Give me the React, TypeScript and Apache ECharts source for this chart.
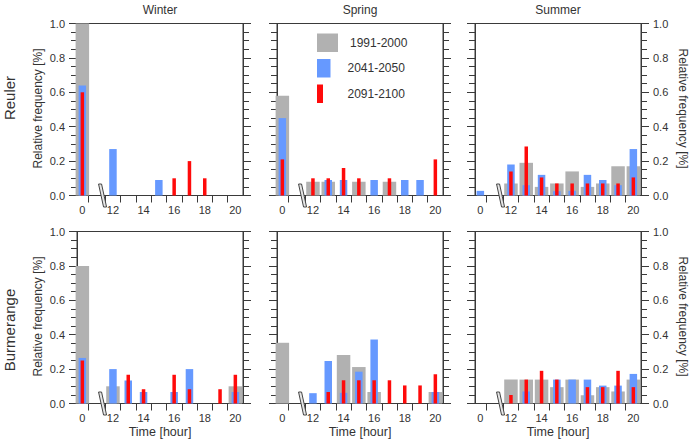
import React, { useEffect, useRef } from "react";
import * as echarts from "echarts";

// Hours shown on the broken time axis: 0, then 12..20
const HOURS = [0, 12, 13, 14, 15, 16, 17, 18, 19, 20];
const X_LABEL_HOURS = [0, 12, 14, 16, 18, 20];
const PERIODS = ["1991-2000", "2041-2050", "2091-2100"];
const SEASONS = ["Winter", "Spring", "Summer"];
const STATIONS = ["Reuler", "Burmerange"];

// Relative frequency per hour (order of HOURS)
const reulerWinter1991 = [1.0, 0, 0, 0, 0, 0, 0, 0, 0, 0];
const reulerWinter2041 = [0.64, 0.27, 0, 0, 0.09, 0, 0, 0, 0, 0];
const reulerWinter2091 = [0.6, 0, 0, 0, 0, 0.1, 0.2, 0.1, 0, 0];

const reulerSpring1991 = [0.58, 0.08, 0.08, 0, 0.08, 0, 0.08, 0, 0, 0];
const reulerSpring2041 = [0.45, 0, 0.09, 0.09, 0, 0.09, 0, 0.09, 0.09, 0];
const reulerSpring2091 = [0.21, 0.1, 0.1, 0.16, 0.1, 0, 0.1, 0, 0, 0.21];

const reulerSummer1991 = [0, 0.07, 0.19, 0.05, 0.07, 0.14, 0.05, 0.07, 0.17, 0.17];
const reulerSummer2041 = [0.027, 0.18, 0.06, 0.12, 0.025, 0.027, 0.12, 0.09, 0.06, 0.27];
const reulerSummer2091 = [0, 0.14, 0.285, 0.105, 0.07, 0.07, 0.07, 0.07, 0.07, 0.105];

const burmWinter1991 = [0.8, 0.1, 0, 0, 0, 0, 0, 0, 0, 0.1];
const burmWinter2041 = [0.265, 0.2, 0.133, 0.067, 0, 0.067, 0.2, 0, 0, 0.067];
const burmWinter2091 = [0.25, 0, 0.167, 0.083, 0, 0.167, 0.083, 0, 0.083, 0.167];

const burmSpring1991 = [0.353, 0, 0, 0.282, 0.212, 0.067, 0, 0, 0, 0.067];
const burmSpring2041 = [0, 0.06, 0.247, 0.062, 0.185, 0.372, 0, 0, 0, 0.067];
const burmSpring2091 = [0, 0, 0.067, 0.135, 0.135, 0.135, 0.135, 0.105, 0.105, 0.17];

const burmSummer1991 = [0, 0.139, 0.139, 0.139, 0.095, 0.139, 0.048, 0.095, 0.07, 0.139];
const burmSummer2041 = [0, 0, 0.07, 0, 0.139, 0.139, 0.139, 0.104, 0.104, 0.172];
const burmSummer2091 = [0, 0.05, 0.139, 0.19, 0.139, 0, 0.095, 0.095, 0.19, 0.095];

const PANELS = [
  [
    [reulerWinter1991, reulerWinter2041, reulerWinter2091],
    [reulerSpring1991, reulerSpring2041, reulerSpring2091],
    [reulerSummer1991, reulerSummer2041, reulerSummer2091],
  ],
  [
    [burmWinter1991, burmWinter2041, burmWinter2091],
    [burmSpring1991, burmSpring2041, burmSpring2091],
    [burmSummer1991, burmSummer2041, burmSummer2091],
  ],
];

const COLORS = ["#b1b1b1", "#6699ff", "#ff0a0a"];
const BAR_WIDTHS = [13.5, 7.5, 3.5];
const FONT = "'Liberation Sans', Arial, sans-serif";
const TEXT = "#333";
const AXIS = "#3a3a3a";

// Broken axis: hour 0 sits just right of the left frame, the rest is on its own scale
const ZERO_POS = 10;
const X_MIN = 9.65;
const X_MAX = 20.5;
const BREAK_AT = 11.32;
const TICK_POS = [10.4, 11.5, 12.5, 13.5, 14.5, 15.5, 16.5, 17.5, 18.5, 19.5];
const axisPos = (h: number) => (h === 0 ? ZERO_POS : h);

const COL_LEFT = [77, 277, 475];
const ROW_TOP = [23.5, 231.5];
const GRID_W = 166;
const GRID_H = 172;

function buildOption() {
  const grid: any[] = [];
  const xAxis: any[] = [];
  const yAxis: any[] = [];
  const series: any[] = [];

  STATIONS.forEach((_, r) => {
    SEASONS.forEach((__, c) => {
      const g = grid.length;
      grid.push({
        left: COL_LEFT[c],
        top: ROW_TOP[r],
        width: GRID_W,
        height: GRID_H,
        show: true,
        borderColor: AXIS,
        borderWidth: 1,
      });
      const xBase = xAxis.length;
      xAxis.push({
        type: "value",
        gridIndex: g,
        min: X_MIN,
        max: X_MAX,
        axisLine: { show: true, onZero: false, lineStyle: { color: AXIS, width: 1 } },
        axisTick: {
          show: true,
          customValues: TICK_POS,
          length: 7,
          lineStyle: { color: AXIS, width: 1 },
        },
        axisLabel: {
          show: true,
          customValues: X_LABEL_HOURS.map(axisPos),
          formatter: (v: number) => (Math.abs(v - ZERO_POS) < 1e-6 ? "0" : String(v)),
          color: TEXT,
          fontSize: 11,
          fontFamily: FONT,
          margin: 9,
        },
        splitLine: { show: false },
      });
      for (let k = 1; k < 3; k++) {
        xAxis.push({ type: "value", gridIndex: g, min: X_MIN, max: X_MAX, show: false });
      }
      const yBase = yAxis.length;
      ["left", "right"].forEach((pos) => {
        yAxis.push({
          type: "value",
          gridIndex: g,
          position: pos,
          min: 0,
          max: 1,
          interval: 0.2,
          axisLine: { show: true, lineStyle: { color: AXIS, width: 1 } },
          axisTick: { show: true, length: 8, lineStyle: { color: AXIS, width: 1 } },
          minorTick: { show: true, splitNumber: 4, length: 6, lineStyle: { color: AXIS, width: 1 } },
          axisLabel: {
            show: (pos === "left" && c === 0) || (pos === "right" && c === 2),
            formatter: (v: number) => v.toFixed(1),
            color: TEXT,
            fontSize: 11,
            fontFamily: FONT,
            margin: 12,
          },
          splitLine: { show: false },
          minorSplitLine: { show: false },
        });
      });

      PANELS[r][c].forEach((vals, k) => {
        series.push({
          type: "bar",
          name: PERIODS[k],
          xAxisIndex: xBase + k,
          yAxisIndex: yBase,
          barWidth: BAR_WIDTHS[k],
          itemStyle: { color: COLORS[k] },
          z: 2 + k,
          silent: true,
          data: HOURS.map((h, i) => [axisPos(h), vals[i]]).filter((d) => d[1] > 0),
        });
      });

      // axis break marker "//"
      series.push({
        type: "custom",
        xAxisIndex: xBase,
        yAxisIndex: yBase,
        clip: false,
        z: 20,
        silent: true,
        data: [[BREAK_AT, 0]],
        renderItem: (_p: any, api: any) => {
          const p = api.coord([api.value(0), api.value(1)]);
          const h = 11.5;
          return {
            type: "polygon",
            shape: {
              points: [
                [p[0] - 4, p[1] - h],
                [p[0] - 1, p[1] - h],
                [p[0] + 4, p[1] + h],
                [p[0] + 1, p[1] + h],
              ],
            },
            style: { fill: "#e6e6e6", stroke: "#444", lineWidth: 1 },
          };
        },
      });
    });
  });

  const graphic: any[] = [];
  const txt = (text: string, x: number, y: number, size: number, rotation = 0) => ({
    type: "text",
    x,
    y,
    rotation,
    silent: true,
    style: {
      text,
      fill: TEXT,
      fontSize: size,
      fontFamily: FONT,
      align: "center",
      verticalAlign: "middle",
    },
  });

  SEASONS.forEach((s, c) => {
    const cx = COL_LEFT[c] + GRID_W / 2;
    graphic.push(txt(s, cx, 9.5, 12));
    graphic.push(txt("Time [hour]", cx, 432, 12.5));
  });
  graphic.push(txt("Reuler", 9, 98, 15, Math.PI / 2));
  graphic.push(txt("Burmerange", 9, 330, 15, Math.PI / 2));
  ROW_TOP.forEach((t) => {
    const cy = t + 85;
    graphic.push(txt("Relative frequency [%]", 38, cy, 12, Math.PI / 2));
    graphic.push(txt("Relative frequency [%]", 683, cy, 12, -Math.PI / 2));
  });

  // legend inside the spring panel
  const legendBoxes = [
    { w: 21, y: 33.5, h: 18.5 },
    { w: 13.5, y: 59, h: 18.5 },
    { w: 6, y: 84.5, h: 18.5 },
  ];
  PERIODS.forEach((p, k) => {
    const b = legendBoxes[k];
    graphic.push({
      type: "rect",
      silent: true,
      shape: { x: 317, y: b.y, width: b.w, height: b.h },
      style: { fill: COLORS[k] },
    });
    graphic.push({
      type: "text",
      silent: true,
      x: k === 0 ? 350 : 347.5,
      y: b.y + b.h / 2,
      style: {
        text: p,
        fill: TEXT,
        fontSize: 12,
        fontFamily: FONT,
        align: "left",
        verticalAlign: "middle",
      },
    });
  });

  return {
    animation: false,
    backgroundColor: "#ffffff",
    grid,
    xAxis,
    yAxis,
    series,
    graphic,
  };
}

export default function App() {
  const ref = useRef<HTMLDivElement>(null);
  useEffect(() => {
    if (!ref.current) return;
    const chart = echarts.init(ref.current, null, { renderer: "svg" });
    chart.setOption(buildOption());
    return () => chart.dispose();
  }, []);
  return (
    <div
      ref={ref}
      style={{ position: "fixed", left: 0, top: 0, width: 691, height: 443 }}
    />
  );
}
